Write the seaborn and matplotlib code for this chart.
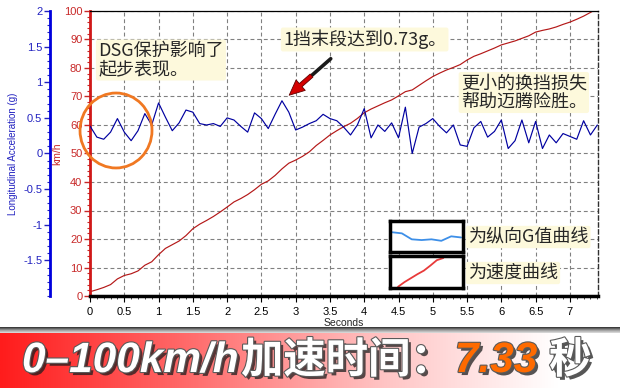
import numpy as np
import pandas as pd
import matplotlib
matplotlib.use('Agg')
import matplotlib.pyplot as plt
import seaborn as sns
from matplotlib.patches import Ellipse
from matplotlib.colors import LinearSegmentedColormap
import matplotlib.patheffects as pe
from matplotlib.ticker import MultipleLocator

# ---------------- data ----------------
time_s = [0.0, 0.1, 0.2, 0.3, 0.4, 0.5, 0.6, 0.7, 0.8, 0.9,
          1.0, 1.1, 1.2, 1.3, 1.4, 1.5, 1.6, 1.7, 1.8, 1.9,
          2.0, 2.1, 2.2, 2.3, 2.4, 2.5, 2.6, 2.7, 2.8, 2.9,
          3.0, 3.1, 3.2, 3.3, 3.4, 3.5, 3.6, 3.7, 3.8, 3.9,
          4.0, 4.1, 4.2, 4.3, 4.4, 4.5, 4.6, 4.7, 4.8, 4.9,
          5.0, 5.1, 5.2, 5.3, 5.4, 5.5, 5.6, 5.7, 5.8, 5.9,
          6.0, 6.1, 6.2, 6.3, 6.4, 6.5, 6.6, 6.7, 6.8, 6.9,
          7.0, 7.1, 7.2, 7.3, 7.4]
g_values = [0.385, 0.23, 0.20, 0.30, 0.49, 0.30, 0.18, 0.32, 0.56, 0.40,
            0.71, 0.51, 0.32, 0.43, 0.61, 0.58, 0.42, 0.40, 0.42, 0.38,
            0.50, 0.47, 0.38, 0.30, 0.57, 0.49, 0.35, 0.55, 0.74, 0.58,
            0.33, 0.37, 0.42, 0.46, 0.55, 0.49, 0.46, 0.37, 0.26, 0.40,
            0.63, 0.22, 0.40, 0.31, 0.43, 0.22, 0.65, 0.00, 0.37, 0.42,
            0.49, 0.38, 0.29, 0.40, 0.12, 0.10, 0.36, 0.45, 0.23, 0.31,
            0.47, 0.07, 0.18, 0.47, 0.15, 0.45, 0.07, 0.26, 0.15, 0.28,
            0.24, 0.20, 0.46, 0.26, 0.40]
speed_kmh = [1.5, 2.2, 3.0, 4.0, 6.0, 7.2, 7.8, 8.8, 10.8, 12.0,
             14.5, 16.7, 18.0, 19.3, 21.2, 23.6, 25.2, 26.5, 27.9, 29.5,
             31.2, 33.0, 34.2, 35.6, 37.3, 39.2, 40.4, 42.3, 44.6, 46.6,
             47.7, 49.0, 50.6, 52.8, 54.6, 56.5, 58.0, 59.4, 60.6, 62.3,
             64.3, 65.6, 66.7, 67.8, 68.8, 70.2, 71.7, 72.3, 73.9, 75.5,
             77.0, 78.2, 79.3, 80.2, 81.2, 82.8, 84.1, 85.0, 86.0, 87.0,
             88.1, 88.8, 89.5, 90.4, 91.3, 92.6, 93.2, 93.7, 94.4, 95.3,
             96.1, 97.1, 98.2, 99.5, 100.8]

x_ticks = [0, 0.5, 1, 1.5, 2, 2.5, 3, 3.5, 4, 4.5, 5, 5.5, 6, 6.5, 7]
x_tick_labels = ['0', '0.5', '1', '1.5', '2', '2.5', '3', '3.5', '4', '4.5',
                 '5', '5.5', '6', '6.5', '7']
speed_ticks = [0, 10, 20, 30, 40, 50, 60, 70, 80, 90, 100]
speed_tick_labels = ['0', '10', '20', '30', '40', '50', '60', '70', '80', '90', '100']
g_ticks = [2, 1.5, 1, 0.5, 0, -0.5, -1, -1.5]
g_tick_labels = ['2', '1.5', '1', '0.5', '0', '-0.5', '-1', '-1.5']

note_dsg = 'DSG保护影响了\n起步表现。'
note_peak = '1挡末段达到0.73g。'
note_shift = '更小的换挡损失\n帮助迈腾险胜。'
legend_g = '为纵向G值曲线'
legend_v = '为速度曲线'
banner_parts = ['0–100km/h', '加速时间：', '7.33', ' 秒']

# ---------------- style ----------------
sns.set_style('white')
plt.rcParams['font.family'] = ['Liberation Sans', 'DejaVu Sans']
CJK = ['Noto Sans CJK SC', 'DejaVu Sans']

RED = '#c82828'
BLUE = '#2222c0'
W, H = 620, 388
L, R, B, T = 90, 598, 296, 11

fig = plt.figure(figsize=(6.2, 3.88), dpi=100)
fig.patch.set_facecolor('white')
ax = fig.add_axes([L / W, 1 - B / H, (R - L) / W, (B - T) / H])
ax2 = ax.twinx()

df = pd.DataFrame({'t': time_s, 'g': g_values, 'v': speed_kmh})
sns.lineplot(data=df, x='t', y='v', ax=ax, color='#b41818', lw=0.85)
sns.lineplot(data=df, x='t', y='g', ax=ax2, color='#0000a0', lw=0.85)

ax.set_xlim(0, 7.41)
ax.set_ylim(0, 100)
ax2.set_ylim(-2, 2)

# x axis
ax.set_xticks(x_ticks)
ax.set_xticklabels(x_tick_labels)
ax.xaxis.set_minor_locator(MultipleLocator(0.1))
ax.tick_params(axis='x', which='major', direction='out', length=4, width=0.8,
               labelsize=8, pad=4, colors='black', bottom=True)
ax.tick_params(axis='x', which='minor', direction='out', length=2.5, width=0.6,
               bottom=True)
ax.set_xlabel('Seconds', fontsize=7.5, labelpad=1)

# red speed axis
ax.set_yticks(speed_ticks)
ax.set_yticklabels(speed_tick_labels)
ax.yaxis.set_minor_locator(MultipleLocator(2))
ax.tick_params(axis='y', which='major', direction='out', length=4, width=1,
               labelsize=8, pad=1.5, colors=RED, left=True)
ax.tick_params(axis='y', which='minor', direction='out', length=2, width=0.8,
               colors=RED, left=True)
ax.set_ylabel('km/h', color=RED, fontsize=7.5)
ax.yaxis.set_label_coords(-0.054, 0.5)

# blue G axis (offset to the left)
ax2.yaxis.tick_left()
ax2.yaxis.set_label_position('left')
ax2.set_yticks(g_ticks)
ax2.set_yticklabels(g_tick_labels)
ax2.yaxis.set_minor_locator(MultipleLocator(0.1))
ax2.tick_params(axis='y', which='major', direction='out', length=4, width=1,
                labelsize=8, pad=1.5, colors=BLUE, left=True, right=False)
ax2.tick_params(axis='y', which='minor', direction='out', length=2, width=0.8,
                colors=BLUE, left=True, right=False)
ax2.set_ylabel('Longitudinal Acceleration (g)', color=BLUE, fontsize=7)
ax2.yaxis.set_label_coords(-0.141, 0.5)

for s in ['right', 'top', 'bottom']:
    ax2.spines[s].set_visible(False)
ax2.spines['left'].set_visible(True)
ax2.spines['left'].set_position(('axes', -40 / (R - L)))
ax2.spines['left'].set_color('#0000dd')
ax2.spines['left'].set_linewidth(2)

ax.spines['left'].set_color('#d01818')
ax.spines['left'].set_linewidth(2)
ax.spines['bottom'].set_color('black')
ax.spines['bottom'].set_linewidth(2.5)
ax.spines['top'].set_color('black')
ax.spines['top'].set_linewidth(0.9)
ax.spines['right'].set_color('#303030')
ax.spines['right'].set_linewidth(1)
ax.spines['right'].set_linestyle((0, (3, 2)))

ax.grid(True, which='major', color='#808080', lw=0.8, ls=(0, (3.5, 2.5)))

# ---------------- annotations ----------------
glow = dict(boxstyle='round,pad=0.12', fc='#fdf9dc', ec='none')
ax2.text(0.016, 0.828, note_dsg, transform=ax2.transAxes, fontsize=13,
         family=CJK, va='center', ha='left', linespacing=1.05, bbox=glow, zorder=5)
ax2.text(0.380, 0.900, note_peak, transform=ax2.transAxes, fontsize=13,
         family=CJK, va='center', ha='left', bbox=glow, zorder=5)
ax2.text(0.730, 0.714, note_shift, transform=ax2.transAxes, fontsize=13,
         family=CJK, va='center', ha='left', linespacing=1.05, bbox=glow, zorder=5)

ax2.add_patch(Ellipse((0.0512, 0.5807), 0.1417, 0.263, transform=ax2.transAxes,
                      fill=False, ec='#f07822', lw=2, clip_on=False, zorder=6))

tail = (0.478, 0.839)
head = (0.388, 0.698)
mid = (tail[0] + 0.5 * (head[0] - tail[0]), tail[1] + 0.5 * (head[1] - tail[1]))
ax2.annotate('', xy=mid, xytext=tail, xycoords='axes fraction',
             arrowprops=dict(arrowstyle='-', color='#1a1a1a', lw=2.6), zorder=6)
ax2.annotate('', xy=head, xytext=(tail[0] + 0.42 * (head[0] - tail[0]),
                                  tail[1] + 0.42 * (head[1] - tail[1])),
             xycoords='axes fraction',
             arrowprops=dict(arrowstyle='simple,head_length=1.1,head_width=1.0,tail_width=0.3',
                             fc='#d40000', ec='#600000', lw=0.6), zorder=7)

# legend icons
box1 = ax2.inset_axes([0.5906, 0.1544, 0.1437, 0.1086])
box2 = ax2.inset_axes([0.5906, 0.028, 0.1437, 0.112])
icon_g = df.iloc[14:22]
icon_v = df.iloc[40:48]
sns.lineplot(data=icon_g, x='t', y='g', ax=box1, color='#3d8fe8', lw=1.3)
sns.lineplot(data=icon_v, x='t', y='v', ax=box2, color='#e83a3a', lw=1.3)
gmin, gmax = icon_g['g'].min(), icon_g['g'].max()
box1.set_ylim(gmin - 0.3, gmax + 0.3)
box1.set_xlim(icon_g['t'].min() - 0.02, icon_g['t'].max() + 0.02)
t0, t1 = icon_v['t'].min(), icon_v['t'].max()
span = (t1 - t0) / 0.62
box2.set_xlim(t0 - 0.11 * span, t0 - 0.11 * span + span)
v0, v1 = icon_v['v'].min(), icon_v['v'].max()
vspan = (v1 - v0) / 0.9
box2.set_ylim(v0 - 0.04 * vspan, v0 - 0.04 * vspan + vspan)
for bx in (box1, box2):
    bx.set_xticks([]); bx.set_yticks([])
    bx.set_xlabel(''); bx.set_ylabel('')
    bx.set_facecolor('white')
    for s in bx.spines.values():
        s.set_visible(True)
        s.set_color('black')
        s.set_linewidth(2.5)

ax2.text(0.744, 0.207, legend_g, transform=ax2.transAxes, fontsize=13,
         family=CJK, va='center', ha='left', bbox=glow, zorder=5)
ax2.text(0.744, 0.0807, legend_v, transform=ax2.transAxes, fontsize=13,
         family=CJK, va='center', ha='left', bbox=glow, zorder=5)

# ---------------- banner ----------------
band_top = 332
bax = fig.add_axes([0, 0, 1, (H - band_top) / H])
grad = np.linspace(0, 1, 256)[None, :]
cmap = LinearSegmentedColormap.from_list(
    'banner', [(0, '#ff1c1c'), (0.3, '#ff6a6a'), (0.62, '#ffc4c4'),
               (0.9, '#ffffff'), (1, '#ffffff')])
bax.imshow(grad, aspect='auto', cmap=cmap, extent=[0, 1, 0, 1])
bax.set_axis_off()

sax = fig.add_axes([0, (H - band_top - 1) / H, 1, 6 / H])
vgrad = np.linspace(0, 1, 64)[:, None]
scmap = LinearSegmentedColormap.from_list('shadow', ['#2a2a2a', '#9a9a9a', '#e0e0e0'])
sax.imshow(vgrad, aspect='auto', cmap=scmap, extent=[0, 1, 0, 1], origin='upper')
sax.set_axis_off()

renderer = fig.canvas.get_renderer()
effects = [pe.SimplePatchShadow(offset=(2.2, -2.2), shadow_rgbFace='#1e1e1e', alpha=0.75),
           pe.Stroke(linewidth=1.6, foreground='#5a5a5a'), pe.Normal()]
styles = [dict(family=['Liberation Sans', 'DejaVu Sans'], style='italic', color='white'),
          dict(family=CJK, color='white'),
          dict(family=['Liberation Sans', 'DejaVu Sans'], style='italic', color='#ff6a00'),
          dict(family=CJK, color='white')]
x_px = 22
y_frac = (H - 361) / H
for part, st in zip(banner_parts, styles):
    txt = fig.text(x_px / W, y_frac, part, fontsize=30.5, fontweight='heavy',
                   va='center', ha='left', path_effects=effects, **st)
    bb = txt.get_window_extent(renderer=renderer)
    x_px = bb.x1 + 2

fig.savefig('out.png', dpi=100, facecolor='white')
